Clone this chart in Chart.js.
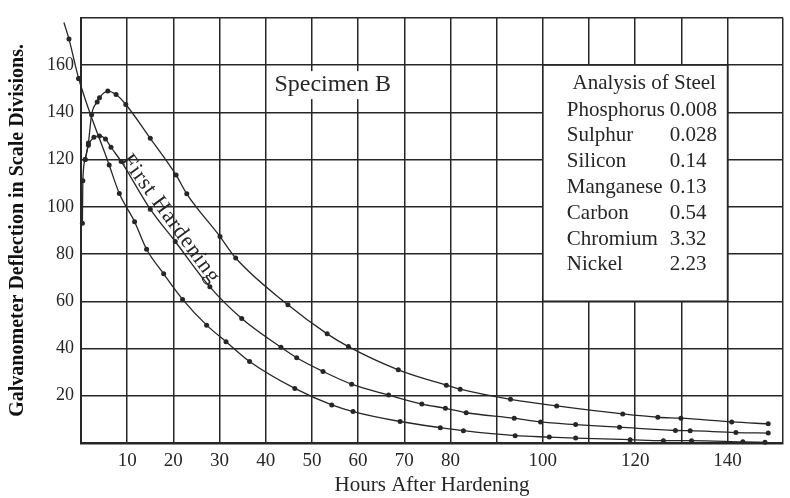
<!DOCTYPE html>
<html>
<head>
<meta charset="utf-8">
<script src="https://cdn.jsdelivr.net/npm/chart.js@4.4.1/dist/chart.umd.min.js"></script>
<style>
  html, body { margin: 0; padding: 0; background: #fff; }
  #wrap { width: 790px; height: 498px; }
</style>
</head>
<body>
<div id="wrap"><canvas id="galvChart"></canvas></div>
<script>
// readings taken off the plate: hours after hardening vs deflection
const upperHours = [0.9, 1.6, 2.3, 3.5, 4.0, 5.8, 7.6, 9.7, 15.0, 20.6, 22.9, 30.1, 33.5, 44.8, 53.3, 57.9, 68.7, 79.1, 82.1, 93.0, 103.0, 117.3, 124.9, 129.9, 140.9, 148.8];
const upperDefl = [120, 127, 139, 144.4, 146.2, 149, 147.5, 143.3, 129, 113.4, 105.5, 87.4, 78.3, 58.5, 46.2, 40.8, 31, 24.5, 22.8, 18.5, 15.7, 12.3, 10.9, 10.5, 8.9, 8.1];

const firstHours = [0.3, 0.4, 0.9, 1.6, 2.8, 4.0, 5.3, 6.5, 8.7, 15.0, 20.4, 27.9, 34.8, 43.3, 46.7, 52.4, 58.6, 66.6, 73.8, 78.9, 83.4, 93.8, 99.5, 107.1, 116.6, 128.7, 131.9, 141.8, 148.8];
const firstDefl = [93, 111, 120, 126, 129.4, 130, 128.7, 125.2, 119.2, 99, 85.3, 66.1, 52.7, 40.5, 36.1, 30.3, 24.9, 20.3, 16.5, 14.7, 12.8, 10.5, 8.9, 7.8, 6.7, 5.3, 5.2, 4.4, 4.2];

const lowerHours = [-3.7, -2.6, -0.5, 6.1, 8.3, 11.6, 14.2, 17.9, 22.0, 27.2, 31.4, 36.5, 46.3, 54.3, 58.9, 69.1, 77.8, 82.8, 94.0, 101.4, 107.1, 118.9, 126.1, 132.2, 143.3, 148.1];
const lowerDefl = [178, 171, 154.3, 117.7, 105.6, 93.7, 82, 71.6, 60.8, 49.9, 42.9, 34.5, 23.1, 16.1, 13.3, 9.1, 6.5, 5.2, 3.1, 2.5, 2.1, 1.4, 1.0, 1.0, 0.5, 0.3];

const xTickLabels = [10, 20, 30, 40, 50, 60, 70, 80, 100, 120, 140];
const yTickLabels = [20, 40, 60, 80, 100, 120, 140, 160];

const analysisTitle = "Analysis of Steel";
const elements = ["Phosphorus", "Sulphur", "Silicon", "Manganese", "Carbon", "Chromium", "Nickel"];
const percents = ["0.008", "0.028", "0.14", "0.13", "0.54", "3.32", "2.23"];

const ink = "#262626";
const serif = '"Liberation Serif", "DejaVu Serif", serif';

function zip(xs, ys) {
  return xs.map((x, i) => ({ x: x, y: ys[i] }));
}

function curve(label, xs, ys, hideStart) {
  let pts = zip(xs, ys);
  // the lower curve runs past the left axis; handing it over back to front
  // stops chart.js from trimming the points left of x = 0
  if (hideStart) pts = pts.reverse();
  const last = pts.length - 1;
  return {
    label: label,
    data: pts,
    borderColor: ink,
    borderWidth: 1.3,
    backgroundColor: ink,
    pointBackgroundColor: ink,
    pointBorderWidth: 0,
    pointRadius: (c) => (hideStart && c.dataIndex === last ? 0 : 2.5),
    cubicInterpolationMode: "monotone",
    clip: false,
  };
}

// text boxes drawn over the grid: specimen, analysis table, curve label
const notes = {
  id: "notes",
  beforeDatasetsDraw(chart) {
    const { ctx } = chart;
    const x = chart.scales.x, y = chart.scales.y;
    ctx.save();

    // Specimen B
    ctx.font = "24px " + serif;
    ctx.textAlign = "center";
    ctx.textBaseline = "middle";
    const sx = x.getPixelForValue(54.5), sy = y.getPixelForValue(151.5);
    const sw = ctx.measureText("Specimen B").width;
    ctx.fillStyle = "#fff";
    ctx.fillRect(sx - sw / 2 - 3, sy - 14, sw + 6, 28);
    ctx.fillStyle = ink;
    ctx.fillText("Specimen B", sx, sy);

    // analysis box
    const bx0 = x.getPixelForValue(100), bx1 = x.getPixelForValue(140);
    const by0 = y.getPixelForValue(160), by1 = y.getPixelForValue(60);
    ctx.fillStyle = "#fff";
    ctx.fillRect(bx0, by0, bx1 - bx0, by1 - by0);
    ctx.strokeStyle = ink;
    ctx.lineWidth = 1.6;
    ctx.strokeRect(bx0, by0, bx1 - bx0, by1 - by0);

    ctx.fillStyle = ink;
    ctx.font = "21px " + serif;
    ctx.fillText(analysisTitle, (bx0 + bx1) / 2 + 9, by0 + 18);
    ctx.textAlign = "left";
    elements.forEach((el, i) => {
      const ry = by0 + 45 + i * 25.8;
      ctx.fillText(el, bx0 + 24, ry);
      ctx.fillText(percents[i], bx0 + 127, ry);
    });

    // curve label along the first hardening line
    ctx.translate(x.getPixelForValue(19.4), y.getPixelForValue(94.8));
    ctx.rotate(54 * Math.PI / 180);
    ctx.textAlign = "center";
    ctx.font = "22px " + serif;
    ctx.letterSpacing = "1px";
    ctx.fillText("First Hardening", 0, 0);
    ctx.restore();
  },
  // chart.js skips point markers outside the plot area; draw those dots here
  afterDatasetsDraw(chart) {
    const { ctx, chartArea } = chart;
    ctx.save();
    ctx.fillStyle = ink;
    chart.getDatasetMeta(2).data.forEach((pt) => {
      const r = pt.options.radius;
      if (r > 0 && pt.x < chartArea.left + r) {
        ctx.beginPath();
        ctx.arc(pt.x, pt.y, r, 0, Math.PI * 2);
        ctx.fill();
      }
    });
    ctx.restore();
  },
};

const whiteBg = {
  id: "whiteBg",
  beforeDraw(chart) {
    const { ctx } = chart;
    ctx.save();
    ctx.fillStyle = "#fff";
    ctx.fillRect(0, 0, chart.width, chart.height);
    ctx.restore();
  },
};

new Chart(document.getElementById("galvChart"), {
  type: "line",
  data: {
    datasets: [
      curve("Upper", upperHours, upperDefl, false),
      curve("First Hardening", firstHours, firstDefl, false),
      curve("Lower", lowerHours, lowerDefl, true),
    ],
  },
  options: {
    responsive: true,
    maintainAspectRatio: false,
    animation: false,
    layout: { padding: { top: 14, right: 0, left: 0, bottom: 0 } },
    plugins: {
      legend: { display: false },
      tooltip: { enabled: false },
    },
    scales: {
      x: {
        type: "linear",
        min: 0,
        max: 152,
        afterFit: (axis) => { axis.height = 55; },
        ticks: {
          stepSize: 10,
          color: ink,
          padding: 7,
          maxRotation: 0,
          autoSkip: false,
          font: { family: serif, size: 19 },
          callback: (v) => (xTickLabels.includes(v) ? String(v) : ""),
        },
        grid: { color: ink, lineWidth: 1.5, drawTicks: false },
        border: { color: ink, width: 2.5 },
        title: {
          display: true,
          text: "Hours After Hardening",
          color: ink,
          font: { family: serif, size: 21 },
          padding: { top: 0, bottom: 0 },
        },
      },
      y: {
        min: 0,
        max: 180,
        afterFit: (axis) => { axis.width = 81; },
        ticks: {
          stepSize: 20,
          color: ink,
          padding: 7,
          font: { family: serif, size: 18 },
          callback: (v) => (yTickLabels.includes(v) ? String(v) : ""),
        },
        grid: { color: ink, lineWidth: 1.5, drawTicks: false },
        border: { color: ink, width: 2 },
        title: {
          display: true,
          text: "Galvanometer Deflection in Scale Divisions.",
          color: "#111",
          font: { family: serif, size: 20, weight: "bold" },
          padding: { top: 6, bottom: 0 },
        },
      },
    },
  },
  plugins: [whiteBg, notes],
});
</script>
</body>
</html>
